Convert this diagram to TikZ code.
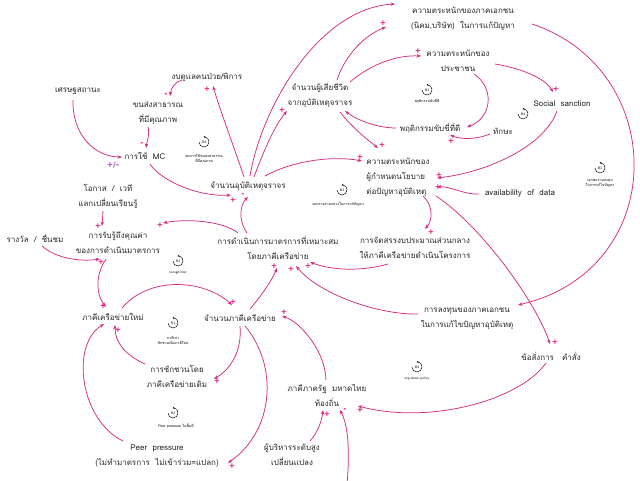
\documentclass[tikz,border=0pt]{standalone}
\usepackage{fontspec}
\newfontfamily\thai[Script=Thai]{Loma}
\newfontfamily\sgfont{DejaVu Sans}
\usetikzlibrary{arrows.meta,calc}
\definecolor{lnk}{RGB}{210,45,130}
\definecolor{sg}{RGB}{232,20,120}
\definecolor{sgp}{RGB}{180,60,190}
\newcommand\loopic[3]{%
  \node[lpi] (#1) at (#2) {#3};
  \draw[lpa] ($(#1)+(-5,0)$) arc[start angle=180,end angle=-95,radius=5];}
\begin{document}
\begin{tikzpicture}[x=1pt,y=-1pt,
  n/.style={font=\thai\fontsize{8}{15}\selectfont,align=center,inner sep=1pt,text=black!85},
  lk/.style={draw=lnk,line width=0.75pt,-{Stealth[length=4.5pt,width=3.5pt]}},
  sgn/.style={text=sg,font=\sgfont\bfseries\fontsize{7.5}{8}\selectfont,inner sep=0.5pt},
  lp/.style={font=\thai\fontsize{3.6}{5}\selectfont,align=center,inner sep=0pt},
  lpi/.style={font=\sffamily\fontsize{3.5}{4}\selectfont,inner sep=0pt},
  lpa/.style={draw=black,line width=0.45pt,-{Stealth[length=2pt,width=2pt]}},
]
\fill[white] (0,0) rectangle (640,480);
\useasboundingbox (0,0) rectangle (640,480);

% nodes
\node[n] (econ) at (78,91) {เศรษฐสถานะ};
\node[n] (budget) at (207,77) {งบดูแลคนป่วย/พิการ};
\node[n] (transit) at (158,113) {ขนส่งสาธารณ\\ที่มีคุณภาพ};
\node[n] (mc) at (145,156) {การใช้~~MC};
\node[n] (death) at (320,96) {จำนวนผู้เสียชีวิต\\จากอุบัติเหตุจราจร};
\node[n] (private) at (463,19) {ความตระหนักของภาคเอกชน\\(นิคม,บริษัท)~~ในการแก้ปัญหา};
\node[n] (public) at (458,61) {ความตระหนักของ\\ประชาชน};
\node[n] (behav) at (430,128) {พฤติกรรมขับขี่ที่ดี};
\node[n] (skill) at (503,131) {ทักษะ};
\node[n] (sanction) at (562,104) {Social~~sanction};
\node[n,align=left] (policy) at (398,177) {ความตระหนักของ\\ผู้กำหนดนโยบาย\\ต่อปัญหาอุบัติเหตุ};
\node[n] (data) at (520,193) {availability~~of~~data};
\node[n] (accident) at (248,186) {จำนวนอุบัติเหตุจราจร};
\node[n] (measure) at (278,248) {การดำเนินการมาตรการที่เหมาะสม\\โดยภาคีเครือข่าย};
\node[n] (alloc) at (415,248) {การจัดสรรงบประมาณส่วนกลาง\\ให้ภาคีเครือข่ายดำเนินโครงการ};
\node[n] (forum) at (108,196) {โอกาส~~/~~เวที\\แลกเปลี่ยนเรียนรู้};
\node[n] (value) at (118,243) {การรับรู้ถึงคุณค่า\\ของการดำเนินมาตรการ};
\node[n] (reward) at (35,238) {รางวัล~~/~~ชื่นชม};
\node[n] (newp) at (113,317) {ภาคีเครือข่ายใหม่};
\node[n] (nump) at (240,318) {จำนวนภาคีเครือข่าย};
\node[n] (recruit) at (177,376) {การชักชวนโดย\\ภาคีเครือข่ายเดิม};
\node[n] (peer) at (157,456) {Peer~~pressure\\(ไม่ทำมาตรการ~~ไม่เข้าร่วม=แปลก)};
\node[n] (gov) at (327,395) {ภาคีภาครัฐ~~มหาดไทย\\ท้องถิ่น};
\node[n] (exec) at (292,455) {ผู้บริหารระดับสูง\\เปลี่ยนแปลง};
\node[n] (invest) at (467,319) {การลงทุนของภาคเอกชน\\ในการแก้ไขปัญหาอุบัติเหตุ};
\node[n] (order) at (551,356) {ข้อสั่งการ~~~คำสั่ง};
\coordinate (bot) at (347,484);

% connectors
\draw[lk] ($(econ)+(-5,9)$) .. controls (72,135) and (95,157) .. ($(mc)+(-23,1)$);
\draw[lk] ($(transit)+(-10,14)$) .. controls (150,135) and (147,141) .. ($(mc)+(1,-8)$);
\draw[lk] ($(budget)+(-25,3)$) .. controls (175,82) and (171,88) .. ($(transit)+(12,-17)$);
\draw[lk] ($(mc)+(5,8)$) .. controls (162,182) and (200,197) .. ($(accident)+(-17,9)$);
\draw[lk] ($(accident)+(-4,-9)$) .. controls (235,150) and (220,110) .. ($(budget)+(6,9)$);
\draw[lk] ($(accident)+(6,-9)$) .. controls (264,150) and (275,125) .. ($(death)+(-33,15)$);
\draw[lk] ($(accident)+(2,-10)$) .. controls (262,105) and (320,8) .. ($(private)+(-68,-15)$);
\draw[lk] ($(death)+(17,-16)$) .. controls (345,55) and (365,35) .. ($(private)+(-77,8)$);
\draw[lk] ($(death)+(30,-14)$) .. controls (370,65) and (395,55) .. ($(public)+(-37,-5)$);
\draw[lk] ($(death)+(20,16)$) .. controls (350,125) and (365,138) .. ($(policy)+(-20,-29)$);
\draw[lk] ($(behav)+(-34,0)$) .. controls (380,128) and (360,122) .. ($(death)+(25,15)$);
\draw[lk] ($(public)+(16,13)$) .. controls (495,88) and (492,118) .. ($(behav)+(37,-1)$);
\draw[lk] ($(skill)+(-13,3)$) .. controls (478,139) and (462,140) .. ($(behav)+(20,7)$);
\draw[lk] ($(public)+(37,3)$) .. controls (520,68) and (545,78) .. ($(sanction)+(-9,-12)$);
\draw[lk] ($(sanction)+(-5,7)$) .. controls (545,145) and (490,172) .. ($(policy)+(39,1)$);
\draw[lk] ($(data)+(-41,1)$) .. controls (465,195) and (450,186) .. ($(policy)+(39,10)$);
\draw[lk] ($(accident)+(17,-10)$) .. controls (290,162) and (330,155) .. ($(policy)+(-36,-16)$);
\draw[lk] ($(policy)+(25,19)$) .. controls (433,205) and (433,220) .. ($(alloc)+(10,-19)$);
\draw[lk] ($(policy)+(38,19)$) .. controls (480,225) and (535,300) .. ($(order)+(-1,-12)$);
\draw[lk] ($(private)+(69,5)$) .. controls (670,70) and (670,270) .. ($(invest)+(51,-14)$);
\draw[lk] ($(invest)+(-49,-5)$) .. controls (380,315) and (320,295) .. ($(measure)+(18,18)$);
\draw[lk] ($(alloc)+(-27,16)$) .. controls (360,272) and (330,270) .. ($(measure)+(32,14)$);
\draw[lk] ($(nump)+(10,-9)$) .. controls (262,295) and (272,280) .. ($(measure)+(-1,20)$);
\draw[lk] ($(measure)+(-31,-15)$) .. controls (238,220) and (240,205) .. ($(accident)+(0,11)$);
\draw[lk] ($(measure)+(-40,-15)$) .. controls (225,222) and (190,218) .. ($(value)+(45,-20)$);
\draw[lk] ($(forum)+(-5,15)$) -- ($(value)+(-16,-17)$);
\draw[lk] ($(reward)+(7,8)$) .. controls (55,258) and (80,262) .. ($(value)+(-18,16)$);
\draw[lk] ($(value)+(-12,16)$) .. controls (95,275) and (96,295) .. ($(newp)+(-7,-10)$);
\draw[lk] ($(newp)+(9,-9)$) .. controls (150,275) and (205,280) .. ($(nump)+(-8,-13)$);
\draw[lk] ($(nump)+(0,8)$) .. controls (242,350) and (232,368) .. ($(recruit)+(37,3)$);
\draw[lk] ($(recruit)+(-32,-12)$) .. controls (125,355) and (115,342) .. ($(newp)+(2,8)$);
\draw[lk] ($(peer)+(-34,-15)$) .. controls (80,420) and (70,345) .. ($(newp)+(-9,7)$);
\draw[lk] ($(nump)+(5,8)$) .. controls (278,365) and (275,430) .. ($(peer)+(71,7)$);
\draw[lk] ($(gov)+(-1,-15)$) .. controls (325,350) and (300,322) .. ($(nump)+(42,-2)$);
\draw[lk] ($(order)+(-5,7)$) .. controls (520,400) and (430,425) .. ($(gov)+(31,11)$);
\draw[lk] ($(exec)+(18,-14)$) .. controls (318,432) and (322,420) .. ($(gov)+(-4,15)$);
\draw[lk] (bot) .. controls (350,450) and (348,425) .. ($(gov)+(13,15)$);

% polarity signs
\node[sgn,text=sgp] (s1) at (113,165) {+/-};
\node[sgn] (s2) at (142,144) {-};
\node[sgn] (s3) at (166,95) {-};
\node[sgn] (s4) at (233,200) {+};
\node[sgn] (s5) at (207,89) {+};
\node[sgn] (s6) at (282,110) {+};
\node[sgn] (s8) at (383,23) {+};
\node[sgn] (s9) at (418,51) {+};
\node[sgn] (s10) at (382,145) {+};
\node[sgn] (s13) at (451,141) {+};
\node[sgn] (s14) at (556,89) {+};
\node[sgn] (s15) at (439,175) {+};
\node[sgn] (s16) at (438,187) {+};
\node[sgn] (s17) at (360,157) {+};
\node[sgn] (s18) at (431,232) {+};
\node[sgn] (s19) at (555,342) {+};
\node[sgn] (s21) at (291,269) {+};
\node[sgn] (s22) at (308,266) {+};
\node[sgn] (s23) at (274,266) {+};
\node[sgn] (s24) at (243,195) {-};
\node[sgn] (s25) at (160,225) {+};
\node[sgn] (s26) at (98,226) {+};
\node[sgn] (s27) at (101,262) {+};
\node[sgn] (s28) at (103,306) {+};
\node[sgn] (s29) at (233,302) {+};
\node[sgn] (s30) at (217,381) {+};
\node[sgn] (s31) at (118,330) {+};
\node[sgn] (s33) at (232,466) {+};
\node[sgn] (s34) at (284,312) {+};
\node[sgn] (s35) at (360,410) {+};
\node[sgn] (s36) at (327,414) {+};
\node[sgn] (s37) at (345,410) {-};

% loop markers
\loopic{r4}{204,142}{R4}
\node[lp] (r4t) at (204,159) {ลดการใช้ขนส่งสาธารณ\\ที่มีคุณภาพ};
\loopic{b3}{427,90}{B3}
\node[lp] (b3t) at (427,101) {พฤติกรรมขับขี่ดี};
\loopic{b4s}{523,114}{B4}
\loopic{b2}{600,168}{B2}
\node[lp] (b2t) at (600,183) {เอกชนร่วมลงทุน\\ในการแก้ไขปัญหา};
\loopic{b1}{342,190}{B1}
\node[lp] (b1t) at (338,204) {งบกลางส่วนกลางในการแก้ปัญหา};
\loopic{r3}{178,261}{R3}
\node[lpi] (r3t) at (178,273) {recognition};
\loopic{r1}{173,323}{R1}
\node[lp] (r1t) at (173,340) {ภาคีเก่า\\ชักชวนเพิ่มภาคีใหม่};
\loopic{r2}{173,413}{R2}
\node[lp] (r2t) at (176,426) {Peer pressure ในพื้นที่};
\loopic{b4}{417,367}{B4}
\node[lpi] (b4t) at (417,379) {top-down policy};
\end{tikzpicture}
\end{document}
